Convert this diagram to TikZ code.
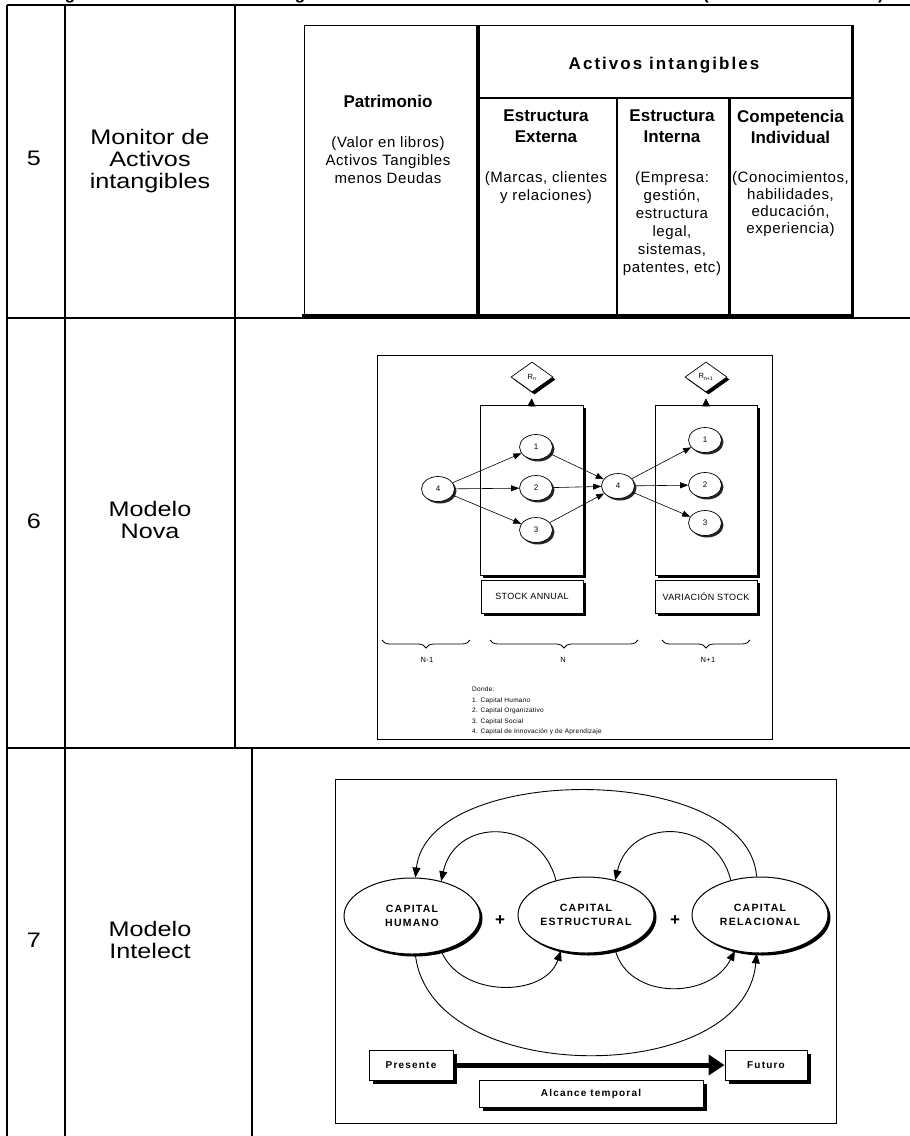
\documentclass[tikz,border=0pt]{standalone}
\usepackage{fontspec}
\setmainfont{Liberation Sans}
\newfontfamily\widefont[FakeStretch=1.2]{Liberation Sans}
\newfontfamily\spacedfont[LetterSpace=12]{Liberation Sans}
\newfontfamily\loosefont[LetterSpace=4]{Liberation Sans}
\usetikzlibrary{arrows.meta,shapes.geometric,shadows,decorations.pathreplacing}

\newcommand{\fs}[2]{\fontsize{#1}{#2}\selectfont}

\tikzset{
  rowrule/.style={line width=1.3pt},
  rowtext/.style={font=\widefont\fs{21}{22}, align=center, inner sep=0pt},
  titlefrag/.style={font=\bfseries\fs{17}{17}, inner sep=0pt, anchor=base},
  hdtext/.style={font=\bfseries\fs{17}{21}, align=center, inner sep=0pt},
  bodytext/.style={font=\loosefont\fs{15}{18}, align=center, inner sep=0pt},
  hardshadow/.style={drop shadow={shadow xshift=#1, shadow yshift=-#1, opacity=1, fill=black}},
  nbox/.style={draw, fill=white, line width=0.6pt, inner sep=0pt, font=\loosefont\fs{9}{9}, hardshadow=3pt},
  numell/.style={ellipse, draw, fill=white, line width=0.7pt, minimum width=33pt, minimum height=25pt, inner sep=0pt, font=\fs{8}{8}, drop shadow={shadow xshift=2pt, shadow yshift=-2pt, opacity=0.85, fill=black}},
  dia/.style={diamond, draw, fill=white, line width=0.7pt, aspect=1.4, minimum width=42pt, minimum height=30pt, inner sep=0pt, font=\fs{7.5}{7.5}, hardshadow=2.5pt},
  link/.style={line width=0.6pt, -{Triangle[length=8pt,width=6pt]}},
  smalltext/.style={font=\loosefont\fs{7.5}{10.5}, inner sep=0pt},
  listtext/.style={font=\loosefont\fs{6.5}{10.5}, inner sep=0pt},
  capell/.style={ellipse, draw, fill=white, line width=1pt, minimum width=136pt, minimum height=76pt, inner sep=0pt, align=center, font=\spacedfont\bfseries\fs{10.5}{14}, hardshadow=2.5pt},
  arcflow/.style={line width=0.9pt, -{Triangle[length=10pt,width=8pt]}},
  tbox/.style={draw, fill=white, line width=0.9pt, inner sep=0pt, font=\spacedfont\bfseries\fs{10}{10}, hardshadow=4pt},
  nbrace/.style={decorate, decoration={brace, amplitude=8pt, mirror}, line width=0.8pt},
}

\begin{document}
\begin{tikzpicture}[x=1pt,y=-1pt]
\useasboundingbox (0,0) rectangle (910,1136);
\clip (0,0) rectangle (910,1136);

% caption line cut by the top edge
\node[titlefrag] (tg1) at (70,-0.5) {g};
\node[titlefrag] (tg2) at (300,-0.5) {g};
\node[titlefrag] (tp1) at (706,-0.5) {(};
\node[titlefrag] (tp2) at (881,-0.5) {)};

% ---------- table grid ----------
\draw[rowrule] (7,5) -- (910,5);
\draw[rowrule] (7,318) -- (910,318);
\draw[rowrule] (7,748) -- (910,748);
\draw[rowrule] (7,5) -- (7,1136);
\draw[rowrule] (65,5) -- (65,1136);
\draw[rowrule] (235,5) -- (235,748);
\draw[rowrule] (252,748) -- (252,1136);

% ---------- first two columns ----------
\node[rowtext, anchor=base] (n5) at (34,165.5) {5};
\node[rowtext, anchor=north] (m5) at (150,129) {Monitor de\\Activos\\intangibles};
\node[rowtext, anchor=base] (n6) at (34,528.5) {6};
\node[rowtext, anchor=north] (m6) at (150,501) {Modelo\\Nova};
\node[rowtext, anchor=base] (n7) at (34,947.5) {7};
\node[rowtext, anchor=north] (m7) at (150,921) {Modelo\\Intelect};

% ---------- row 5: intangible assets monitor ----------
\draw[line width=0.9pt] (304,315) -- (304,25) -- (852,25);
\draw[line width=3pt] (852,25) -- (852,315);
\draw[line width=3pt] (302,315) -- (853.5,315);
\draw[line width=3.5pt] (478,25) -- (478,315);
\draw[line width=2.5pt] (478,98) -- (852,98);
\draw[line width=1.8pt] (617,98) -- (617,315);
\draw[line width=3pt] (729,98) -- (729,315);

\node[hdtext, anchor=base] (pat) at (388,107) {Patrimonio};
\node[bodytext, anchor=north] (patd) at (388,136.5) {(Valor en libros)\\Activos Tangibles\\menos Deudas};
\node[hdtext, anchor=base, font=\spacedfont\bfseries\fs{17}{17}] (ai) at (664,69) {Activos intangibles};
\node[hdtext, anchor=north] (ee) at (546,109.7) {Estructura\\Externa};
\node[bodytext, anchor=north] (eed) at (546,171.5) {(Marcas, clientes\\y relaciones)};
\node[hdtext, anchor=north] (ei) at (672,109.7) {Estructura\\Interna};
\node[bodytext, anchor=north] (eid) at (672,171.5) {(Empresa:\\gestión,\\estructura\\legal,\\sistemas,\\patentes, etc)};
\node[hdtext, anchor=north] (ci) at (790.5,109.7) {Competencia\\Individual};
\node[bodytext, anchor=north, font=\loosefont\fs{15}{17}] (cid) at (790.5,171.5) {(Conocimientos,\\habilidades,\\educación,\\experiencia)};

% ---------- row 6: Nova model ----------
\draw[line width=0.8pt] (377,355) rectangle (772,739);

\node[nbox, minimum width=103pt, minimum height=170pt] (boxA) at (531.5,490) {};
\node[nbox, minimum width=102pt, minimum height=170pt] (boxB) at (706,490) {};
\node[nbox, minimum width=102pt, minimum height=33pt] (stA) at (532,596.5) {STOCK ANNUAL};
\node[nbox, minimum width=102pt, minimum height=33pt] (stB) at (706,596.5) {VARIACIÓN STOCK};

\node[dia] (dA) at (532,377) {R\textsubscript{n}};
\node[dia] (dB) at (706,377) {R\textsubscript{n+1}};
\draw[link, -{Triangle[length=8pt,width=8pt]}, shorten >=6pt] (boxA.north) -- (dA.south);
\draw[link, -{Triangle[length=8pt,width=8pt]}, shorten >=6pt] (boxB.north) -- (dB.south);

\node[numell] (l4) at (438,489) {4};
\node[numell] (a1) at (536,447) {1};
\node[numell] (a2) at (536,488) {2};
\node[numell] (a3) at (536,530) {3};
\node[numell] (m4) at (618,486) {4};
\node[numell] (b1) at (705,440) {1};
\node[numell] (b2) at (705,485) {2};
\node[numell] (b3) at (705,523) {3};

\draw[link] (l4) -- (a1);
\draw[link] (l4) -- (a2);
\draw[link] (l4) -- (a3);
\draw[link] (a1) -- (m4);
\draw[link] (a2) -- (m4);
\draw[link] (a3) -- (m4);
\draw[link] (m4) -- (b1);
\draw[link] (m4) -- (b2);
\draw[link] (m4) -- (b3);

\coordinate (bra1) at (382,640); \coordinate (bra2) at (470,640);
\coordinate (brb1) at (490,640); \coordinate (brb2) at (638,640);
\coordinate (brc1) at (662,640); \coordinate (brc2) at (750,640);
\draw[nbrace] (bra1) -- (bra2);
\draw[nbrace] (brb1) -- (brb2);
\draw[nbrace] (brc1) -- (brc2);
\node[smalltext] (nm1) at (427,660) {N-1};
\node[smalltext] (nn) at (563,660) {N};
\node[smalltext] (np1) at (708,660) {N+1};

\node[listtext, anchor=north west, align=left] (donde) at (472,687)
  {Donde:\\1. Capital Humano\\2. Capital Organizativo\\3. Capital Social\\4. Capital de Innovación y de Aprendizaje};

% ---------- row 7: Intelect model ----------
\draw[line width=1pt] (335,779) rectangle (836,1123);

\node[capell] (hum) at (412,916) {CAPITAL\\HUMANO};
\node[capell] (est) at (586,915) {CAPITAL\\ESTRUCTURAL};
\node[capell] (rel) at (760,915) {CAPITAL\\RELACIONAL};
\node[font=\bfseries\fs{17}{17}, inner sep=0pt] (plus1) at (500,921) {+};
\node[font=\bfseries\fs{17}{17}, inner sep=0pt] (plus2) at (675,921) {+};

\draw[arcflow] (rel.95) .. controls (748,762) and (428,762) .. (hum.85);
\draw[arcflow] (est.131) .. controls (540,817) and (455,817) .. (hum.50);
\draw[arcflow] (rel.130) .. controls (715,817) and (630,817) .. (est.50);
\draw[arcflow] (hum.-50) .. controls (460,998) and (545,998) .. (est.-125);
\draw[arcflow] (est.-50) .. controls (628,1000) and (710,1000) .. (rel.-125);
\draw[arcflow] (hum.-85) .. controls (430,1088) and (745,1088) .. (rel.-95);

\node[tbox, minimum width=84pt, minimum height=30pt] (pres) at (411,1065) {Presente};
\node[tbox, minimum width=82pt, minimum height=30pt] (fut) at (766,1065) {Futuro};
\node[tbox, minimum width=224pt, minimum height=27pt] (alc) at (591,1093.5) {Alcance temporal};
\draw[line width=5pt, -{Triangle[length=16pt,width=20pt]}] (pres.east) -- (fut.west);

\end{tikzpicture}
\end{document}
